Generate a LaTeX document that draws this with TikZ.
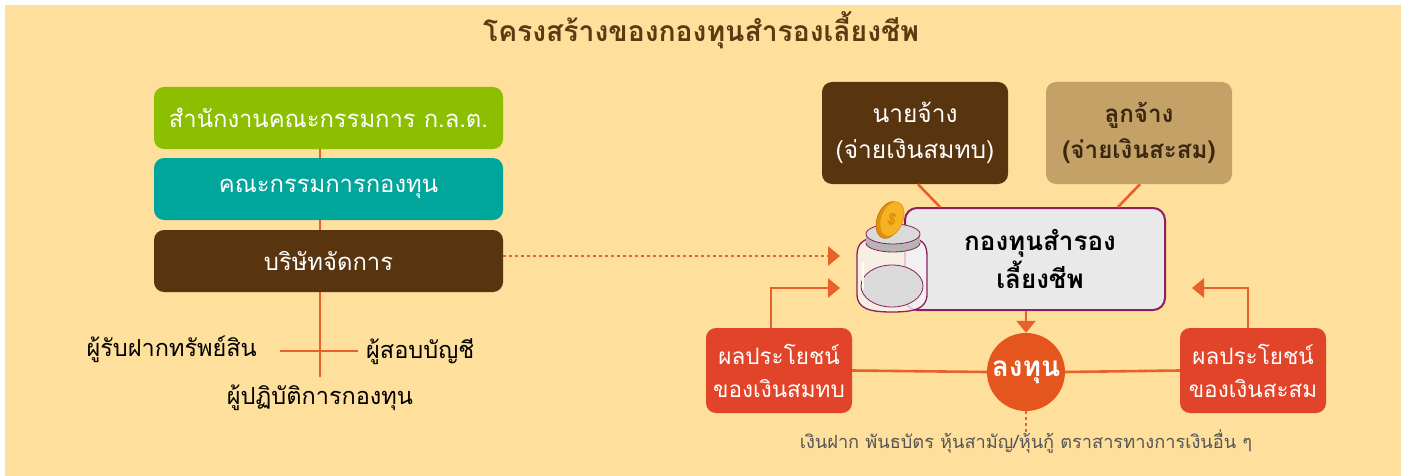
\documentclass[tikz,border=0pt]{standalone}
\usepackage{fontspec}
\setmainfont[Script=Thai]{Loma}
\usetikzlibrary{arrows.meta}
\definecolor{bgyellow}{HTML}{FEDF9C}
\definecolor{titlebrown}{HTML}{5C3A12}
\definecolor{secgreen}{HTML}{8BBF00}
\definecolor{boardteal}{HTML}{00A59B}
\definecolor{darkbrown}{HTML}{58340F}
\definecolor{tanbrown}{HTML}{C4A267}
\definecolor{tantext}{HTML}{3A2710}
\definecolor{lineorange}{HTML}{E8602A}
\definecolor{boxred}{HTML}{E2442A}
\definecolor{investorange}{HTML}{E5561F}
\definecolor{jarpurple}{HTML}{8E1F5E}
\definecolor{fundgrey}{HTML}{E9E9E9}
\definecolor{jarglass}{HTML}{F4F4F4}
\definecolor{lidlight}{HTML}{DADADA}
\definecolor{liddark}{HTML}{B5B5B5}
\definecolor{coinface}{HTML}{F5B324}
\definecolor{coinrim}{HTML}{E0900E}
\definecolor{notegrey}{HTML}{555555}
\begin{document}
\begin{tikzpicture}[x=1pt,y=-1pt,
  orgbox/.style={rounded corners=10pt, minimum width=349pt, minimum height=62pt,
    inner sep=0pt, text=white, font=\fontsize{23.8}{28}\selectfont},
  partybox/.style={rounded corners=10pt, minimum width=186pt, minimum height=102pt,
    inner sep=0pt, align=center, font=\fontsize{24.5}{36}\selectfont},
  benefitbox/.style={rounded corners=10pt, fill=boxred, minimum width=146pt,
    minimum height=85pt, inner sep=0pt, align=center, text=white,
    font=\fontsize{22.5}{33}\selectfont},
  rolelabel/.style={inner sep=0pt, font=\fontsize{23.5}{26}\selectfont},
  link/.style={draw=lineorange, line width=2.6pt},
  dotlink/.style={draw=lineorange, line width=2.4pt, dash pattern=on 2.4pt off 3.6pt},
  tipped/.style={-{Triangle[length=12pt,width=19pt]}}]

% canvas
\useasboundingbox (0,0) rectangle (1407,476);
\fill[white] (0,0) rectangle (1407,476);
\fill[bgyellow] (5,5) rectangle (1401,476);

% title
\node[text=titlebrown, font=\bfseries\fontsize{28.3}{30}\selectfont] (title) at (701,30)
  {โครงสร้างของกองทุนสำรองเลี้ยงชีพ};

% supervising chain on the left
\node[orgbox, fill=secgreen] (sec) at (328.5,118) {สำนักงานคณะกรรมการ ก.ล.ต.};
\node[orgbox, fill=boardteal] (board) at (328.5,189) {คณะกรรมการกองทุน};
\node[orgbox, fill=darkbrown] (manager) at (328.5,261) {บริษัทจัดการ};

\draw[link] ([xshift=-8.5pt]sec.south) -- ([xshift=-8.5pt]board.north);
\draw[link] ([xshift=-8.5pt]board.south) -- ([xshift=-8.5pt]manager.north);

\coordinate (stem) at (320,377);
\coordinate (crossL) at (280,351);
\coordinate (crossR) at (358,351);
\draw[link] ([xshift=-8.5pt]manager.south) -- (stem);
\draw[link] (crossL) -- (crossR);

\node[rolelabel, anchor=east] (custodian) at (257,349) {ผู้รับฝากทรัพย์สิน};
\node[rolelabel, anchor=west] (auditor) at (366,352) {ผู้สอบบัญชี};
\node[rolelabel] (operator) at (320,398) {ผู้ปฏิบัติการกองทุน};

% contributors
\node[partybox, fill=darkbrown, text=white] (employer) at (915,133)
  {นายจ้าง\\(จ่ายเงินสมทบ)};
\node[partybox, fill=tanbrown, text=tantext, font=\bfseries\fontsize{24.2}{36}\selectfont]
  (employee) at (1139,133) {ลูกจ้าง\\(จ่ายเงินสะสม)};

% the fund
\node[rounded corners=12pt, draw=jarpurple, line width=2pt, fill=fundgrey,
  minimum width=260pt, minimum height=102pt, inner sep=0pt, align=center,
  font=\bfseries\fontsize{26}{38}\selectfont] (fund) at (1035,259)
  {\hspace*{10pt}กองทุนสำรอง\\\hspace*{10pt}เลี้ยงชีพ};

\draw[link] ([xshift=3pt]employer.south) -- ([xshift=-95pt]fund.north);
\draw[link] ([xshift=1pt]employee.south) -- ([xshift=83pt]fund.north);

% glass jar with coin
\path[fill=jarglass, fill opacity=0.8, draw=jarpurple, line width=1.3pt]
  (870,238) .. controls (858,242) and (857,248) .. (857,258) -- (857,294)
  .. controls (857,309) and (870,312) .. (892,312)
  .. controls (914,312) and (927,309) .. (927,294) -- (927,258)
  .. controls (927,248) and (926,242) .. (915,238) -- cycle;
\filldraw[fill=lidlight, draw=jarpurple, line width=0.8pt] (892,286) ellipse (31 and 21);
\draw[white, line width=2.5pt, opacity=0.9] (863,262) -- (863,290);
\filldraw[fill=liddark, draw=jarpurple, line width=0.8pt] (893,243) ellipse (27 and 9);
\fill[liddark] (866.4,234) rectangle (919.6,243);
\filldraw[fill=lidlight, draw=jarpurple, line width=0.8pt] (893,234) ellipse (27 and 10);
\fill[jarpurple] (880,233) -- (896,228) -- (897,231) -- (881,236) -- cycle;
\filldraw[fill=coinrim, draw=coinrim!80!black, line width=0.6pt, rotate around={-20:(889,220)}]
  (889,220) ellipse (12 and 19);
\filldraw[fill=coinface, draw=coinrim, line width=0.6pt, rotate around={-20:(892,219)}]
  (892,219) ellipse (11 and 18);
\node[text=coinrim, font=\bfseries\fontsize{16}{16}\selectfont, rotate=-15] (dollar)
  at (892,219) {\$};

% management company feeds the fund
\coordinate (feedtip) at (840,256);
\draw[dotlink, tipped] (manager.east |- feedtip) -- (feedtip);

% investment
\node[circle, fill=investorange, minimum size=78pt, inner sep=0pt, text=white,
  font=\bfseries\fontsize{28}{30}\selectfont] (invest) at (1026,372) {ลงทุน};
\draw[link, tipped] (invest.north |- fund.south) -- (invest.north);

\node[benefitbox] (benefitL) at (779,370.5) {ผลประโยชน์\\ของเงินสมทบ};
\node[benefitbox] (benefitR) at (1253,370.5) {ผลประโยชน์\\ของเงินสะสม};

\draw[link] (benefitL.east) -- (invest.west);
\draw[link] (invest.east) -- (benefitR.west);

\coordinate (returnL) at (840,288);
\coordinate (returnR) at (1192,288);
\draw[link, tipped] ([xshift=-8pt]benefitL.north) |- (returnL);
\draw[link, tipped] ([xshift=-5pt]benefitR.north) |- (returnR);

\coordinate (noteTop) at (1026,434);
\draw[dotlink] (invest.south) -- (noteTop);
\node[text=notegrey, font=\fontsize{18.2}{20}\selectfont] (assets) at (1026,442)
  {เงินฝาก พันธบัตร หุ้นสามัญ/หุ้นกู้ ตราสารทางการเงินอื่น ๆ};
\end{tikzpicture}
\end{document}
